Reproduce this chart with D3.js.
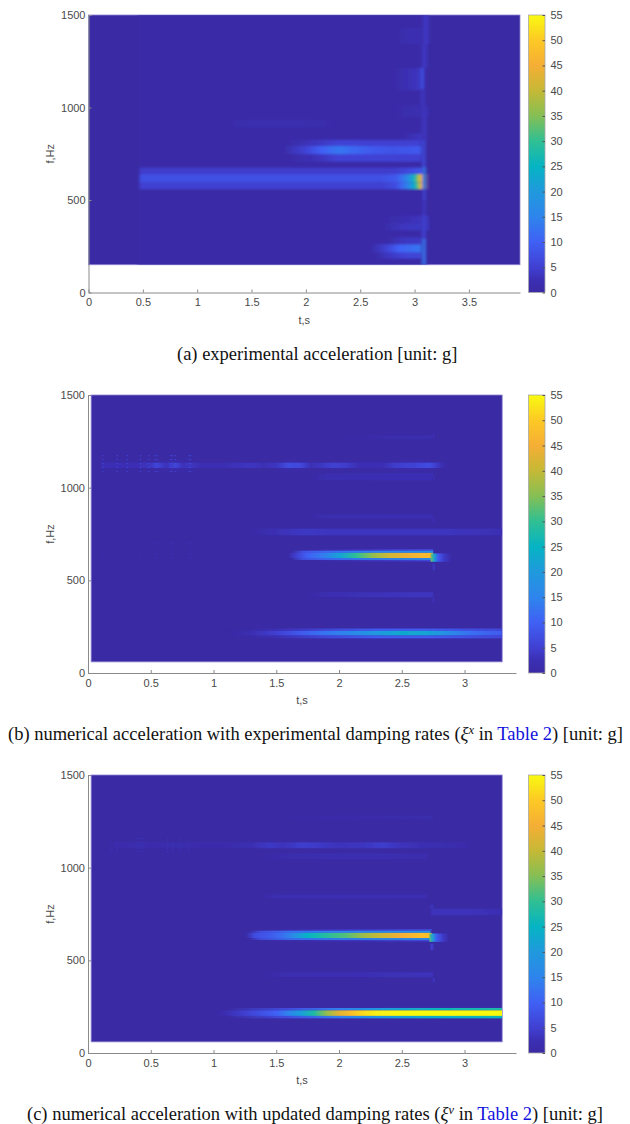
<!DOCTYPE html>
<html>
<head>
<meta charset="utf-8">
<script src="https://cdn.jsdelivr.net/npm/d3@7"></script>
<style>
  body { margin: 0; background: #fff; }
  svg { display: block; }
  .tick text, .lab { font-family: "Liberation Sans", Arial, sans-serif; font-size: 11px; fill: #4a4a4a; }
  .cap { font-family: "Liberation Serif", "Times New Roman", serif; font-size: 18.5px; fill: #111; }
</style>
</head>
<body>
<div id="chart"></div>
<script>
//-- Colour bar --//
var barValues = [0, 2.5, 5, 10, 15, 20, 25, 30, 35, 40, 45, 50, 55];
var barColors = ["#3a2aa3", "#3b2fb4", "#4040d2", "#4060f5", "#2e85ec", "#2099dd", "#05b4c3",
                 "#30bf93", "#85bf55", "#c5b935", "#f5ae35", "#fdc925", "#f8fa10"];
var barTicks = [0, 5, 10, 15, 20, 25, 30, 35, 40, 45, 50, 55];
var freqTicks = [0, 500, 1000, 1500];
var timeTicksA = [0, 0.5, 1, 1.5, 2, 2.5, 3, 3.5];
var timeTicksBC = [0, 0.5, 1, 1.5, 2, 2.5, 3];

//-- Panel (a): frequency range of each strip, times and amplitudes along it --//
var rowsA = [[150, 1500], [559, 595], [595, 640], [640, 674], [708, 748], [748, 793], [793, 824],
             [184, 216], [216, 261], [261, 297], [337, 375], [375, 413], [896, 932], [1094, 1211],
             [1347, 1427], [824, 860], [950, 1010],
             [150, 290], [290, 420], [420, 500], [500, 560], [560, 640], [640, 680], [680, 820], [820, 1000],
             [1000, 1100], [1100, 1215], [1215, 1340], [1340, 1500]];
var timesA = [
  [0.45, 0.49, 3.09, 3.12],
  [0.47, 2.7, 2.83, 2.88, 2.955, 3.0, 3.03, 3.06, 3.09, 3.13],
  [0.47, 2.7, 2.83, 2.88, 2.955, 3.0, 3.03, 3.06, 3.09, 3.13],
  [0.47, 2.8, 2.9, 3.09],
  [1.85, 2.05, 2.3, 2.6, 3.09],
  [1.8, 2.0, 2.15, 2.3, 2.45, 2.6, 2.8, 3.09],
  [1.85, 2.1, 2.3, 2.6, 3.09],
  [2.65, 2.75, 2.9, 3.08],
  [2.6, 2.75, 2.85, 3.0, 3.09],
  [2.75, 2.9, 3.08],
  [2.72, 2.9, 3.13],
  [2.75, 2.95, 3.13],
  [1.3, 1.5, 2.0, 2.25],
  [2.82, 2.93, 3.0, 3.07],
  [2.85, 2.95, 3.07],
  [2.9, 3.02, 3.09],
  [2.85, 3.0, 3.13],
  [3.06, 3.085, 3.105],
  [3.06, 3.085, 3.105],
  [3.065, 3.09, 3.105],
  [3.07, 3.09, 3.105],
  [3.07, 3.09, 3.11],
  [3.07, 3.09, 3.11],
  [3.06, 3.085, 3.105],
  [3.06, 3.085, 3.115],
  [3.05, 3.08, 3.1],
  [3.04, 3.07, 3.095],
  [3.06, 3.09, 3.12],
  [3.07, 3.1, 3.135]
];
var valuesA = [
  [0, 0.8, 0.8, 0],
  [5, 5, 7, 11, 17, 24, 33, 46, 45, 1],
  [7.5, 7.5, 9, 12, 19, 26, 36, 46, 44, 1],
  [4.5, 4.5, 5.5, 9],
  [0.8, 2.5, 5.5, 5.5, 5],
  [0.8, 5.5, 10, 13, 11, 9, 8, 9],
  [0.8, 3.5, 5.5, 5, 5],
  [0.8, 3.5, 5.5, 6],
  [0.8, 5.5, 10, 12, 13],
  [0.8, 3.5, 4],
  [0.8, 3.5, 4],
  [0.8, 2.5, 4],
  [0.8, 1.8, 1.8, 0.8],
  [0.8, 2.5, 3, 4.5],
  [0.8, 2, 2],
  [1, 3, 4.5],
  [1, 1.8, 2.5],
  [1, 14, 6],
  [1, 6, 3],
  [1, 3.5, 2],
  [1, 6.5, 2],
  [6, 20, 2],
  [3, 15, 2],
  [1, 7, 2],
  [1, 3.5, 2.5],
  [1, 3.5, 1.5],
  [2, 8, 2.5],
  [1, 4, 2.5],
  [1, 4, 3]
];

//-- Panel (b) --//
var rowsB = [[1106, 1136], [1136, 1150], [1090, 1106], [1040, 1078], [1260, 1283], [833, 855], [743, 779],
             [660, 668], [648, 660], [620, 648], [610, 620], [602, 610], [600, 645], [409, 436],
             [227, 240], [202, 227], [187, 202],
             [1265, 1295], [1035, 1065], [815, 840], [555, 590], [380, 405]];
var timesB = [
  [0.1, 0.2, 0.3, 0.4, 0.5, 0.55, 0.62, 0.7, 0.75, 0.82, 0.9, 1.0, 1.1, 1.2, 1.3, 1.4, 1.5, 1.6, 1.7, 1.78, 1.85, 1.95, 2.05, 2.15, 2.25, 2.35, 2.45, 2.6, 2.72, 2.76, 2.82, 2.87],
  [0.5, 0.7, 0.9, 1.5, 1.6, 1.8, 2.7, 2.76],
  [0.5, 0.7, 0.9, 1.5, 1.6, 1.8, 2.7, 2.76],
  [1.75, 1.9, 2.4, 2.75],
  [1.95, 2.4, 2.75],
  [1.72, 1.9, 2.4, 2.75],
  [1.25, 1.4, 1.5, 1.7, 1.9, 2.2, 2.5, 2.8, 3.0, 3.3],
  [1.7, 2.1, 2.4, 2.75],
  [1.62, 1.72, 1.88, 2.1, 2.4, 2.75],
  [1.6, 1.66, 1.75, 1.88, 2.01, 2.14, 2.27, 2.4, 2.53, 2.67, 2.75],
  [1.62, 1.72, 1.88, 2.1, 2.4, 2.75],
  [1.72, 2.1, 2.4, 2.74],
  [2.73, 2.76, 2.79, 2.84, 2.9],
  [1.72, 1.9, 2.4, 2.75],
  [1.2, 1.5, 1.9, 2.3, 2.7, 3.3],
  [1.1, 1.3, 1.5, 1.7, 1.9, 2.1, 2.3, 2.5, 2.7, 2.9, 3.05, 3.3],
  [1.2, 1.5, 1.9, 2.3, 2.7, 3.3],
  [2.74, 2.755, 2.77],
  [2.74, 2.755, 2.77],
  [2.74, 2.755, 2.77],
  [2.74, 2.755, 2.77],
  [2.74, 2.755, 2.77]
];
var valuesB = [
  [2.5, 2.5, 2.5, 2.5, 3.5, 6, 3, 6, 3, 3.5, 2, 2.5, 2.5, 3, 3.5, 2.5, 3.5, 7, 6, 2.5, 3.5, 5, 4.5, 2.5, 2.5, 2.5, 4.5, 5.5, 7, 5, 2, 0],
  [0, 1.2, 0, 0, 1.2, 0, 1.2, 0],
  [0, 1.2, 0, 0, 1.2, 0, 1.2, 0],
  [0, 1.8, 2.5, 2.5],
  [0, 1.3, 1.8],
  [0, 1.8, 2.5, 2.2],
  [0, 1.5, 2.5, 3.8, 3.5, 3.5, 3.5, 3.5, 3, 2.5],
  [0, 3, 5, 7],
  [0, 8, 11, 13, 15, 17],
  [1, 5, 10, 14, 22, 30, 36, 41, 44, 47, 47],
  [0, 8, 11, 13, 15, 17],
  [0, 2.5, 4, 6],
  [34, 22, 9, 4, 0],
  [0, 2, 3, 3.5],
  [0, 2.5, 6, 9, 9, 6],
  [0, 2, 5, 9, 13, 16, 20, 23, 22, 16, 12, 9],
  [0, 2.5, 6, 9, 9, 6],
  [0, 2.5, 0],
  [0, 2.5, 0],
  [0, 2.5, 0],
  [0, 4, 0],
  [0, 3, 0]
];
var speckTimesB = [0.114, 0.228, 0.308, 0.414, 0.48, 0.53, 0.547, 0.653, 0.667, 0.693, 0.8, 0.813];
var speckFreqsB = [1176, 1155, 1133, 1112, 1090];
var speckValueB = 6;
var faintTimesB = [0.114, 0.228, 0.414, 0.53, 0.547, 0.653, 0.667, 0.8, 0.813];
var faintFreqsB = [701, 675, 647, 626];
var faintValueB = 3;

//-- Panel (c) --//
var rowsC = [[1105, 1137], [1045, 1078], [1260, 1283], [833, 855], [743, 779],
             [660, 668], [648, 660], [620, 648], [610, 620], [602, 610], [600, 645], [409, 436],
             [230, 243], [200, 230], [187, 200],
             [555, 590], [380, 405], [780, 800]];
var timesC = [
  [0.2, 0.4, 0.5, 0.7, 0.9, 1.1, 1.3, 1.45, 1.55, 1.7, 1.85, 2.0, 2.2, 2.35, 2.5, 2.7, 3.0, 3.05],
  [1.35, 1.6, 2.2, 2.7],
  [1.5, 2.0, 2.75],
  [1.35, 1.5, 2.0, 2.7],
  [2.73, 2.76, 3.0, 3.3],
  [1.35, 1.8, 2.3, 2.74],
  [1.28, 1.38, 1.6, 1.9, 2.3, 2.73],
  [1.26, 1.33, 1.45, 1.55, 1.65, 1.75, 1.9, 2.05, 2.2, 2.35, 2.5, 2.65, 2.74],
  [1.28, 1.38, 1.6, 1.9, 2.3, 2.73],
  [1.35, 1.8, 2.3, 2.74],
  [2.72, 2.75, 2.78, 2.83, 2.88],
  [1.35, 1.6, 2.2, 2.75],
  [1.1, 1.6, 2.0, 2.4, 2.8, 3.3],
  [1.0, 1.1, 1.2, 1.3, 1.4, 1.5, 1.6, 1.7, 1.8, 1.9, 2.0, 2.1, 2.2, 2.3, 2.5, 3.3],
  [1.1, 1.6, 2.0, 2.4, 2.8, 3.3],
  [2.72, 2.74, 2.76],
  [2.74, 2.755, 2.77],
  [2.72, 2.74, 2.76]
];
var valuesC = [
  [1, 1.5, 1.2, 1.5, 1.2, 1.2, 2, 4, 3, 4.5, 4, 3, 3.5, 4.5, 3, 2, 1.2, 0],
  [0, 1.5, 2, 1.5],
  [0, 1.2, 1.5],
  [0, 2, 2.5, 2],
  [2.5, 3, 3, 2],
  [0, 3, 5, 7],
  [0, 7, 12, 14, 16, 18],
  [1, 7, 9, 12, 18, 25, 29, 32, 37, 41, 45, 48, 48],
  [0, 7, 12, 14, 16, 18],
  [0, 2.5, 4, 6],
  [32, 20, 9, 4, 0],
  [0, 2, 2.5, 3],
  [0, 7, 14, 21, 26, 28],
  [0, 2, 4, 6, 8, 10, 15, 21, 28, 36, 43, 48, 52, 54, 55, 55],
  [0, 7, 14, 20, 24, 26],
  [0, 5, 0],
  [0, 3.5, 0],
  [0, 3.5, 0]
];
var speckTimesC = [0.175, 0.228, 0.387, 0.41, 0.44, 0.63, 0.67, 0.73, 0.8];
var speckFreqsC = [1160, 1138, 1122, 1106, 1090];
var speckValueC = 3.5;

//-- Create the SVG --//
var svg = d3.select("#chart").append("svg")
  .attr("width", 630)
  .attr("height", 1124);

var defs = svg.append("defs");

var color = d3.scaleLinear().domain(barValues).range(barColors).clamp(true);

var gid = 0;

function drawSpecks(g, x, y, times, freqs, value) {
  g.append("g").selectAll("rect")
    .data(d3.cross(times, freqs))
    .enter().append("rect")
    .attr("x", function(d) { return x(d[0]); })
    .attr("y", function(d) { return y(d[1]); })
    .attr("width", 1.2).attr("height", 1.2)
    .attr("fill", color(value));
}

function drawPanel(p) {
  var x = d3.scaleLinear().domain([0, p.tMax]).range([p.left, p.right]);
  var y = d3.scaleLinear().domain([0, 1500]).range([p.bottom, p.top]);
  var g = svg.append("g");

  // image background
  var x0 = x(p.tStart), x1 = x(p.tEnd), yTop = y(1500), yLow = y(p.fStart);
  g.append("rect")
    .attr("x", x0).attr("y", yTop)
    .attr("width", x1 - x0).attr("height", yLow - yTop)
    .attr("fill", color(0))
    .attr("stroke", "#9088d4").attr("stroke-width", 0.8);

  var clipId = "clip" + p.id;
  defs.append("clipPath").attr("id", clipId).append("rect")
    .attr("x", x0).attr("y", yTop).attr("width", x1 - x0).attr("height", yLow - yTop);

  var blurId = "soft" + p.id;
  defs.append("filter").attr("id", blurId)
    .attr("x", "-2%").attr("y", "-2%").attr("width", "104%").attr("height", "104%")
    .append("feGaussianBlur").attr("stdDeviation", p.blur);

  var strips = g.append("g").attr("clip-path", "url(#" + clipId + ")")
    .append("g").attr("filter", "url(#" + blurId + ")");

  // each strip is one row of the spectrogram, coloured along time
  p.rows.forEach(function(r, i) {
    var ts = p.times[i], vs = p.values[i], id = "row" + (gid++);
    var a = x(ts[0]), b = x(ts[ts.length - 1]);
    var grad = defs.append("linearGradient").attr("id", id)
      .attr("gradientUnits", "userSpaceOnUse")
      .attr("x1", a).attr("x2", b).attr("y1", 0).attr("y2", 0);
    ts.forEach(function(t, j) {
      grad.append("stop")
        .attr("offset", (x(t) - a) / (b - a))
        .attr("stop-color", color(vs[j]));
    });
    strips.append("rect")
      .attr("x", a).attr("width", b - a)
      .attr("y", y(r[1])).attr("height", y(r[0]) - y(r[1]))
      .attr("fill", "url(#" + id + ")");
  });

  // dotted leakage at early times
  (p.specks || []).forEach(function(s) {
    drawSpecks(g, x, y, s[0], s[1], s[2]);
  });

  // axes
  var xAxis = d3.axisBottom(x).tickValues(p.timeTicks).tickFormat(d3.format("~g"))
    .tickSizeInner(-3).tickSizeOuter(0).tickPadding(6);
  var yAxis = d3.axisLeft(y).tickValues(freqTicks).tickFormat(d3.format("d"))
    .tickSizeInner(-3).tickSizeOuter(0).tickPadding(3);
  var gx = svg.append("g").attr("transform", "translate(0," + p.bottom + ")").call(xAxis);
  var gy = svg.append("g").attr("transform", "translate(" + p.left + ",0)").call(yAxis);
  gx.selectAll("path,line").attr("stroke", "#8a8a8a");
  gy.selectAll("path,line").attr("stroke", "#8a8a8a");

  svg.append("text").attr("class", "lab")
    .attr("x", (p.left + p.right) / 2).attr("y", p.bottom + 31)
    .attr("text-anchor", "middle").text("t,s");
  svg.append("text").attr("class", "lab")
    .attr("transform", "translate(" + 54 + "," + (p.top + p.bottom) / 2 + ") rotate(-90)")
    .attr("text-anchor", "middle").text("f,Hz");

  // colour bar
  var c = d3.scaleLinear().domain([0, 55]).range([p.bottom, p.top]);
  var cid = "bar" + p.id;
  var cg = defs.append("linearGradient").attr("id", cid)
    .attr("x1", 0).attr("x2", 0).attr("y1", 1).attr("y2", 0);
  barValues.forEach(function(v, i) {
    cg.append("stop").attr("offset", v / 55).attr("stop-color", barColors[i]);
  });
  svg.append("rect")
    .attr("x", 528.5).attr("y", p.top).attr("width", 16.5).attr("height", p.bottom - p.top)
    .attr("fill", "url(#" + cid + ")")
    .attr("stroke", "#a8a8a8").attr("stroke-width", 0.8);
  var cAxis = d3.axisRight(c).tickValues(barTicks).tickFormat(d3.format("d"))
    .tickSizeInner(-2.5).tickSizeOuter(0).tickPadding(5.5);
  var gc = svg.append("g").attr("transform", "translate(545,0)").call(cAxis);
  gc.select("path").remove();
  gc.selectAll("line").attr("stroke", "#555");

  // caption
  var cap = svg.append("text").attr("class", "cap")
    .attr("x", p.capX).attr("y", p.capY);
  p.caption.forEach(function(s) {
    var t = cap.append("tspan").text(s.text);
    if (s.blue) t.attr("fill", "#1111dd");
    if (s.italic) t.attr("font-style", "italic");
    if (s.sup) t.attr("font-style", "italic").attr("dy", -6).attr("font-size", 12.5);
    if (s.down) t.attr("dy", 6);
  });
}

drawPanel({
  id: "a", left: 88.5, right: 520, top: 15, bottom: 292.5, tMax: 3.97,
  tStart: 0, tEnd: 3.97, fStart: 150, blur: "1.4 1.1",
  rows: rowsA, times: timesA, values: valuesA,
  timeTicks: timeTicksA, capX: 177, capY: 360,
  caption: [{text: "(a) experimental acceleration [unit: g]"}]
});
drawPanel({
  id: "b", left: 88, right: 516, top: 395, bottom: 673, tMax: 3.41,
  tStart: 0.025, tEnd: 3.3, fStart: 60, blur: "0.6 0.7",
  rows: rowsB, times: timesB, values: valuesB,
  specks: [[speckTimesB, speckFreqsB, speckValueB], [faintTimesB, faintFreqsB, faintValueB]],
  timeTicks: timeTicksBC, capX: 8, capY: 740,
  caption: [{text: "(b) numerical acceleration with experimental damping rates ("},
            {text: "ξ", italic: true}, {text: "x", sup: true}, {text: " in ", down: true},
            {text: "Table 2", blue: true}, {text: ") [unit: g]"}]
});
drawPanel({
  id: "c", left: 88, right: 516, top: 775, bottom: 1053, tMax: 3.41,
  tStart: 0.025, tEnd: 3.3, fStart: 60, blur: "0.6 0.7",
  rows: rowsC, times: timesC, values: valuesC,
  specks: [[speckTimesC, speckFreqsC, speckValueC]],
  timeTicks: timeTicksBC, capX: 27, capY: 1120,
  caption: [{text: "(c) numerical acceleration with updated damping rates ("},
            {text: "ξ", italic: true}, {text: "v", sup: true}, {text: " in ", down: true},
            {text: "Table 2", blue: true}, {text: ") [unit: g]"}]
});
</script>
</body>
</html>
